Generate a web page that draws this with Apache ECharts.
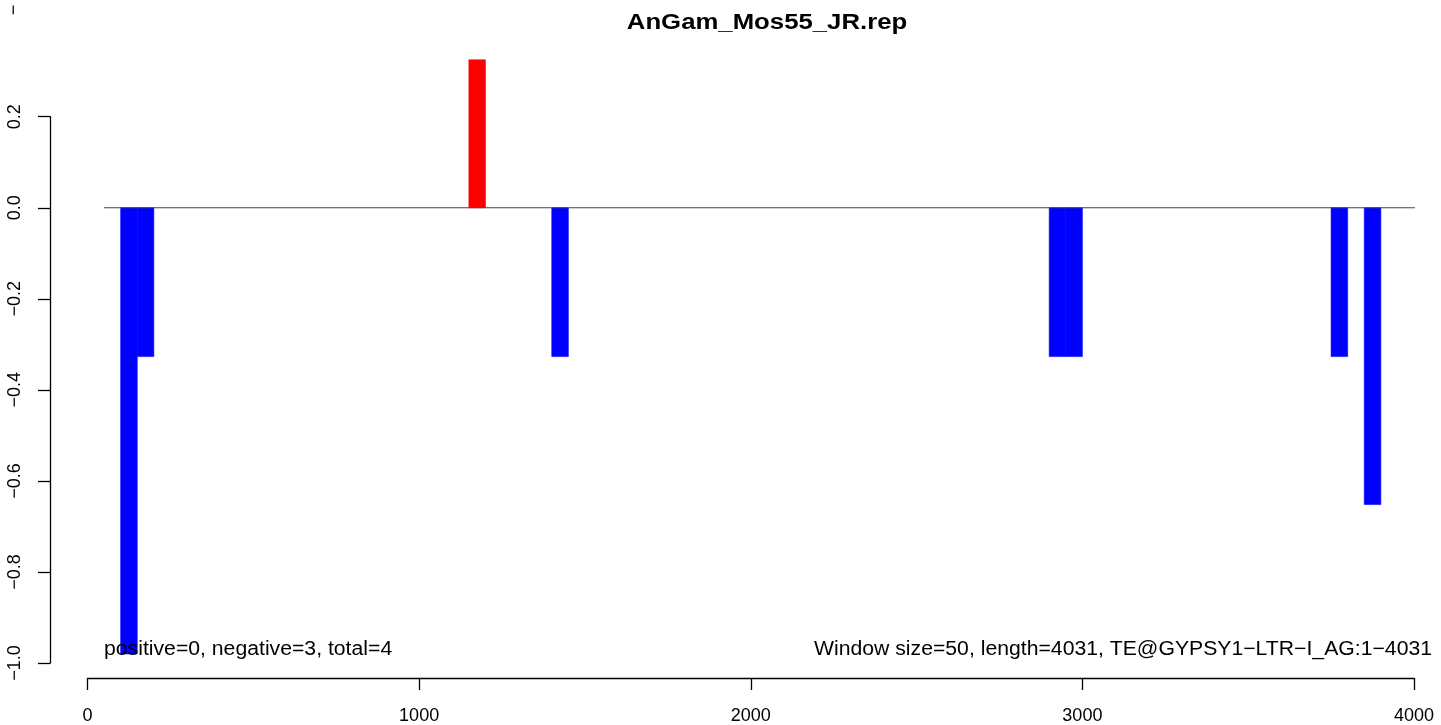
<!DOCTYPE html>
<html><head><meta charset="utf-8">
<script src="https://cdn.jsdelivr.net/npm/echarts@6/dist/echarts.min.js"></script>
<style>html,body{margin:0;padding:0;background:#fff}#c{width:1441px;height:725px}</style>
</head><body><div id="c"></div>
<script>
// ---- data ----
const chartTitle = 'AnGam_Mos55_JR.rep';
const binStart = [100, 150, 1150, 1400, 2900, 2950, 3750, 3850];
const binEnd   = [150, 200, 1200, 1450, 2950, 3000, 3800, 3900];
const values   = [-0.98, -0.327, 0.325, -0.327, -0.327, -0.327, -0.327, -0.652];
const xTicks = [0, 1000, 2000, 3000, 4000];
const yTicks = [-1.0, -0.8, -0.6, -0.4, -0.2, 0.0, 0.2];
const baselineX = [50, 4056];
const leftNote = 'positive=0, negative=3, total=4';
const rightNote = 'Window size=50, length=4031, TE@GYPSY1\u2212LTR\u2212I_AG:1\u22124031';

// ---- chart ----
const FONT = '"Liberation Sans", Arial, Helvetica, sans-serif';
const chart = echarts.init(document.getElementById('c'), null, {renderer: 'canvas'});
const barData = binStart.map((s, i) => [s, binEnd[i], values[i]]);
const baseData = baselineX.map(x => [x, 0]);

chart.setOption({
  animation: false,
  backgroundColor: '#ffffff',
  grid: {left: 87.5, right: 27, top: 116.7, bottom: 60, containLabel: false},
  xAxis: {
    type: 'value', min: xTicks[0], max: xTicks[xTicks.length - 1], interval: 1000,
    position: 'bottom', offset: 15,
    axisLine: {show: true, onZero: false, lineStyle: {color: '#000', width: 1.3}},
    axisTick: {show: true, length: 12, lineStyle: {color: '#000', width: 1.3}},
    axisLabel: {show: true, color: '#000', fontSize: 18, fontFamily: FONT, margin: 29,
      formatter: v => String(v), showMinLabel: true, showMaxLabel: true},
    splitLine: {show: false}
  },
  yAxis: {
    type: 'value', min: yTicks[0], max: yTicks[yTicks.length - 1], interval: 0.2,
    position: 'left', offset: 37.5,
    axisLine: {show: true, onZero: false, lineStyle: {color: '#000', width: 1.3}},
    axisTick: {show: true, length: 12, lineStyle: {color: '#000', width: 1.3}},
    axisLabel: {show: true, color: '#000', fontSize: 18, fontFamily: FONT, rotate: 90, margin: 26,
      formatter: v => v.toFixed(1).replace('-', '\u2212'), showMinLabel: true, showMaxLabel: true},
    splitLine: {show: false}
  },
  graphic: [
    {type: 'text', x: 767, y: 23, scaleX: 1.17, style: {text: chartTitle, font: 'bold 22px ' + FONT, fill: '#000',
      textAlign: 'center', textVerticalAlign: 'middle'}},
    {type: 'text', x: 104, y: 649, scaleX: 1.06, style: {text: leftNote, font: '20px ' + FONT, fill: '#000',
      textAlign: 'left', textVerticalAlign: 'middle'}, z: 10},
    {type: 'text', x: 1432, y: 649, scaleX: 1.06, style: {text: rightNote, font: '20px ' + FONT, fill: '#000',
      textAlign: 'right', textVerticalAlign: 'middle'}, z: 10},
    {type: 'text', x: 14, y: 10, rotation: Math.PI / 2, style: {text: '\u2212', font: '18px ' + FONT, fill: '#000',
      textAlign: 'center', textVerticalAlign: 'middle'}}
  ],
  series: [
    {
      type: 'custom', clip: false, z: 2,
      data: barData,
      encode: {x: [0, 1], y: 2},
      renderItem: function (params, api) {
        const v = api.value(2);
        const p0 = api.coord([api.value(0), 0]);
        const p1 = api.coord([api.value(1), v]);
        const c = v > 0 ? '#ff0000' : '#0000ff';
        return {
          type: 'rect',
          shape: {x: p0[0], y: Math.min(p0[1], p1[1]), width: p1[0] - p0[0], height: Math.abs(p1[1] - p0[1])},
          style: {fill: c, stroke: c, lineWidth: 0.6}
        };
      }
    },
    {
      type: 'line', clip: false, z: 3, data: baseData, showSymbol: false, symbol: 'none',
      lineStyle: {color: '#444444', width: 1.2}, silent: true
    }
  ]
});
</script></body></html>
